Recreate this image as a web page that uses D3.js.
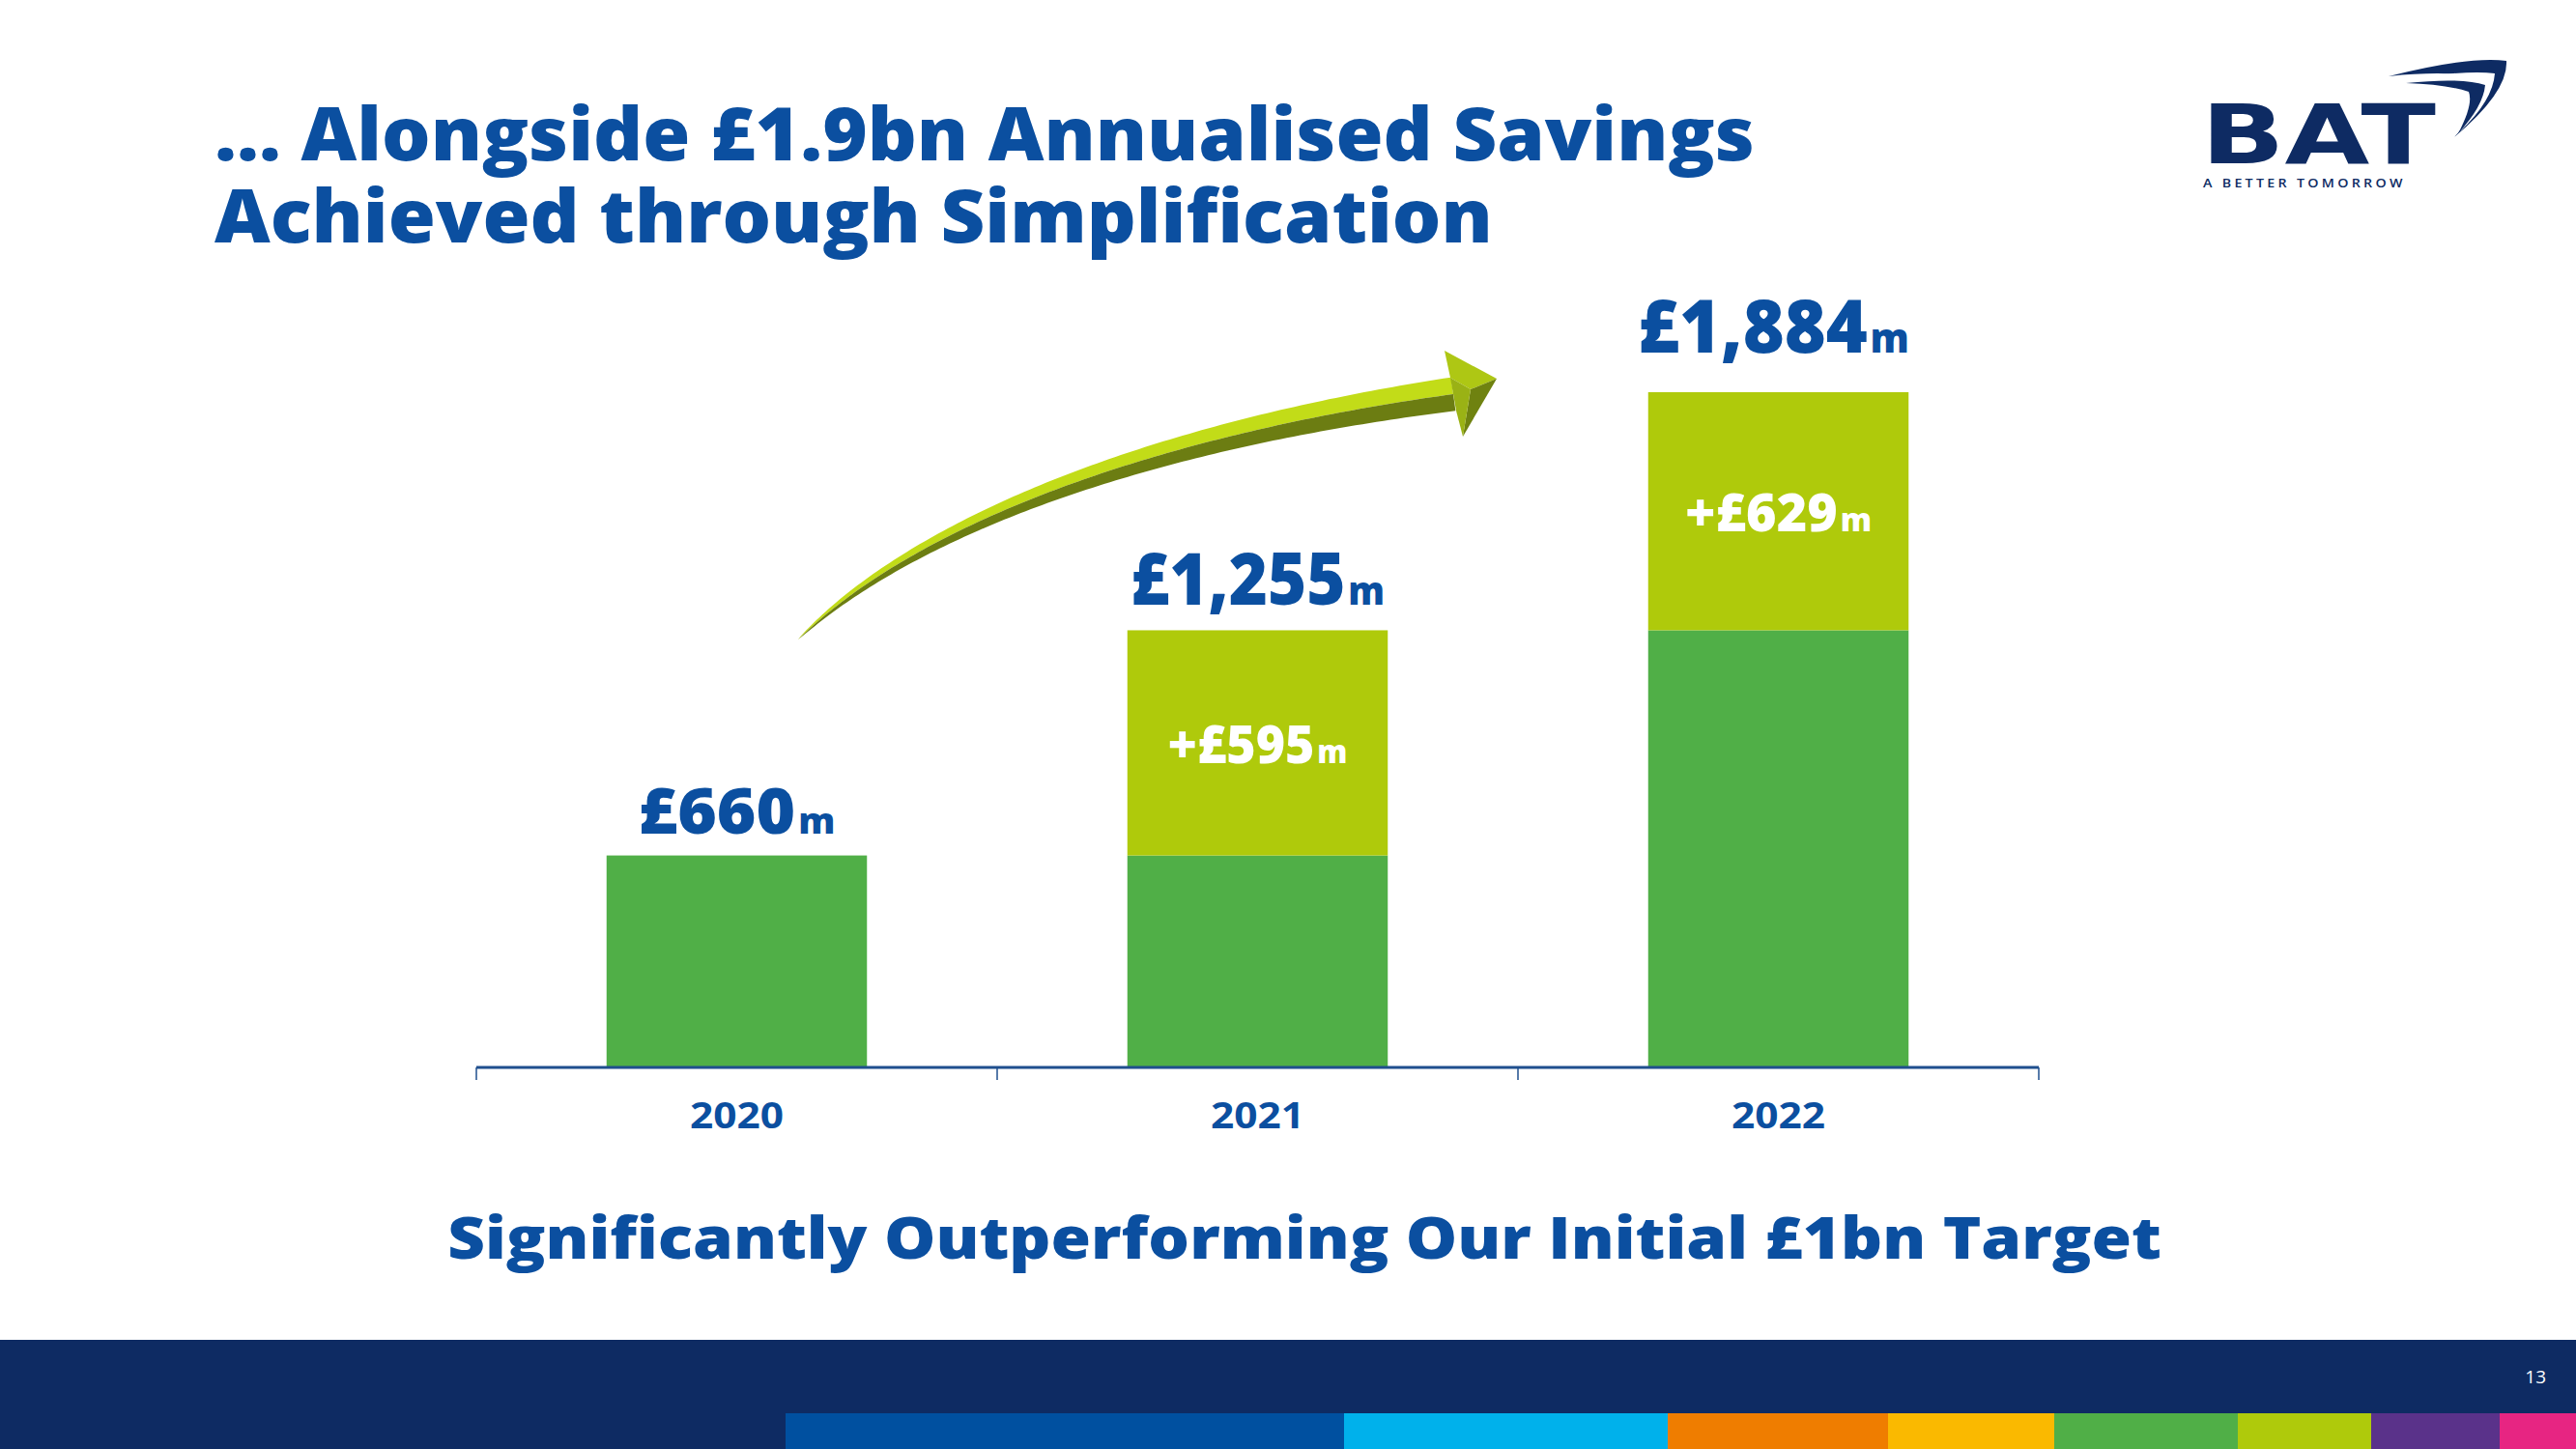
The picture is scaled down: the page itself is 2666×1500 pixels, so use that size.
<!DOCTYPE html>
<html><head><meta charset="utf-8">
<script src="https://cdn.jsdelivr.net/npm/d3@7"></script>
<style>html,body{margin:0;padding:0;background:#fff;overflow:hidden;} svg{display:block;}</style>
</head><body>
<script>
// ---- data ----
const years = ["2020", "2021", "2022"];
const baseSavings = [660, 660, 1255];
const addedSavings = [0, 595, 629];
const totalSavings = [660, 1255, 1884];
const totalLabels = ["£660", "£1,255", "£1,884"];
const addedLabels = ["", "+£595", "+£629"];
const unitLabel = "m";
const titleLines = ["… Alongside £1.9bn Annualised Savings", "Achieved through Simplification"];
const subtitle = "Significantly Outperforming Our Initial £1bn Target";
const logoWord = "BAT";
const logoTagline = "A BETTER TOMORROW";
const pageNumber = "13";

// ---- layout / style ----
const W = 2666, H = 1500;
const BLUE = "#0B4FA0", NAVY = "#0E2B63", GREEN = "#50AF47", LIME = "#AFCA0B";
const FONT = "'Open Sans', 'Noto Sans', sans-serif";
const stripeEdges = [813, 1391, 1726, 1954, 2126, 2316, 2454, 2587, 2666];
const stripeColors = ["#0050A0", "#00B1EB", "#EF7D00", "#FAB900", "#50AF47", "#AFCA0B", "#5A328A", "#E72582"];
const totalLabelGap = [23, 26, 41];
const totalLabelSize = [66, 74, 76];
const totalLabelWidth = [204, 263, 281];
const addedLabelWidth = [0, 186, 193];

const svg = d3.select("body").append("svg").attr("width", W).attr("height", H);
svg.append("rect").attr("width", W).attr("height", H).attr("fill", "#fff");

function fit(textSel, target, x, y) {
  const bb = textSel.node().getBBox();
  const s = target / bb.width;
  textSel.attr("transform", `translate(${x},${y}) scale(${s},1)`);
}

// ---- title (one text, two lines) ----
const title = svg.append("text").attr("x", 0).attr("y", 0)
  .attr("font-family", FONT).attr("font-weight", 800).attr("font-size", 76)
  .attr("fill", BLUE).attr("text-anchor", "start");
const tl1 = title.append("tspan").text(titleLines[0]).attr("x", 0).attr("y", 0);
title.append("tspan").text(titleLines[1]).attr("x", 0).attr("y", 85);
const ts = 1594 / tl1.node().getComputedTextLength();
title.attr("transform", `translate(222,166) scale(${ts},1)`);

// ---- logo ----
const logo = svg.append("g");
const bat = logo.append("text").text(logoWord).attr("x", 0).attr("y", 0)
  .attr("font-family", "'DejaVu Sans', sans-serif").attr("font-weight", 700).attr("font-size", 85)
  .attr("fill", NAVY).attr("text-anchor", "start");
fit(bat, 243, 2278, 169);
const tag = logo.append("text").text(logoTagline).attr("x", 0).attr("y", 0)
  .attr("font-family", FONT).attr("font-weight", 600).attr("font-size", 13)
  .attr("fill", NAVY).attr("letter-spacing", 3);
fit(tag, 210, 2280, 194);
logo.append("path").attr("fill", NAVY)
  .attr("d", "M2472,79 Q2555,58 2594,63 Q2596,95 2540,142 Q2578,100 2575,82 Q2540,72 2472,79 Z");
logo.append("path").attr("fill", "#fff")
  .attr("d", "M2478,84 Q2550,72 2582,76 Q2580,104 2546,136 Q2572,102 2567,90 Q2530,82 2478,84 Z");
logo.append("path").attr("fill", NAVY)
  .attr("d", "M2490,86 Q2548,80 2572,88 Q2570,110 2544,138 Q2560,108 2555,95 Q2530,87 2490,86 Z");

// ---- scales ----
const x = d3.scaleBand().domain(years).range([493, 2110]).paddingInner(0.5).paddingOuter(0.25);
const y = d3.scaleLinear().domain([100, 1884]).range([1105, 406]);

// ---- arrow ----
const P = [[826, 662], [950, 540], [1200, 450], [1504, 408]];
function bez(t) {
  const u = 1 - t;
  const px = u*u*u*P[0][0] + 3*u*u*t*P[1][0] + 3*u*t*t*P[2][0] + t*t*t*P[3][0];
  const py = u*u*u*P[0][1] + 3*u*u*t*P[1][1] + 3*u*t*t*P[2][1] + t*t*t*P[3][1];
  const dx = 3*u*u*(P[1][0]-P[0][0]) + 6*u*t*(P[2][0]-P[1][0]) + 3*t*t*(P[3][0]-P[2][0]);
  const dy = 3*u*u*(P[1][1]-P[0][1]) + 6*u*t*(P[2][1]-P[1][1]) + 3*t*t*(P[3][1]-P[2][1]);
  const len = Math.hypot(dx, dy);
  return {x: px, y: py, nx: dy/len, ny: -dx/len};
}
const N = 120;
const center = [], upper = [], lower = [];
for (let i = 0; i <= N; i++) {
  const t = i / N, b = bez(t);
  const hw = 17.5 * Math.pow(t, 0.75);
  center.push([b.x, b.y]);
  upper.push([b.x + b.nx*hw, b.y + b.ny*hw]);
  lower.push([b.x - b.nx*hw, b.y - b.ny*hw]);
}
const line = d3.line();
svg.append("path").attr("d", line(upper.concat(center.slice().reverse())) + "Z").attr("fill", "#C2DC18");
svg.append("path").attr("d", line(lower.concat(center.slice().reverse())) + "Z").attr("fill", "#6C7D12");
svg.append("path").attr("d", line([[1495,363],[1549,392],[1522,403],[1501,391]]) + "Z").attr("fill", "#AEC714");
svg.append("path").attr("d", line([[1522,403],[1549,392],[1514,452]]) + "Z").attr("fill", "#6F8210");
svg.append("path").attr("d", line([[1501,391],[1522,403],[1514,452],[1507,425]]) + "Z").attr("fill", "#9AB215");

// ---- bars ----
const g = svg.append("g");
g.selectAll("rect.base").data(years).join("rect").attr("class", "base")
  .attr("x", d => x(d)).attr("width", x.bandwidth())
  .attr("y", (d, i) => y(baseSavings[i])).attr("height", (d, i) => y.range()[0] - y(baseSavings[i]))
  .attr("fill", GREEN);
g.selectAll("rect.add").data(years.filter((d, i) => addedSavings[i] > 0)).join("rect").attr("class", "add")
  .attr("x", d => x(d)).attr("width", x.bandwidth())
  .attr("y", d => { const i = years.indexOf(d); return y(baseSavings[i] + addedSavings[i]); })
  .attr("height", d => { const i = years.indexOf(d); return y(baseSavings[i]) - y(baseSavings[i] + addedSavings[i]); })
  .attr("fill", LIME);

// ---- axis ----
const axisY = y.range()[0];
const bounds = [x.range()[0]].concat(years.map(d => x(d) + x.bandwidth() + x.step() * 0.25));
g.append("line").attr("x1", x.range()[0]).attr("x2", x.range()[1]).attr("y1", axisY).attr("y2", axisY)
  .attr("stroke", "#1F4F8E").attr("stroke-width", 3);
g.selectAll("line.tick").data(bounds).join("line").attr("class", "tick")
  .attr("x1", d => d).attr("x2", d => d).attr("y1", axisY).attr("y2", axisY + 13)
  .attr("stroke", "#1F4F8E").attr("stroke-width", 1.5);
years.forEach((d, i) => {
  const t = g.append("text").text(d).attr("x", 0).attr("y", 0)
    .attr("font-family", FONT).attr("font-weight", 700).attr("font-size", 37)
    .attr("fill", BLUE).attr("text-anchor", "middle");
  fit(t, 97, x(d) + x.bandwidth()/2, 1168);
});

// ---- value labels ----
years.forEach((d, i) => {
  const cx = x(d) + x.bandwidth()/2;
  const t = g.append("text").attr("x", 0).attr("y", 0)
    .attr("font-family", FONT).attr("font-weight", 800).attr("fill", BLUE).attr("text-anchor", "middle");
  t.append("tspan").text(totalLabels[i]).attr("font-size", totalLabelSize[i]);
  t.append("tspan").text(unitLabel).attr("font-size", totalLabelSize[i] * 0.55).attr("dx", 3);
  fit(t, totalLabelWidth[i], cx - (i === 2 ? 5 : 0), y(totalSavings[i]) - totalLabelGap[i]);
  if (addedSavings[i] > 0) {
    const mid = (y(baseSavings[i]) + y(baseSavings[i] + addedSavings[i])) / 2;
    const a = g.append("text").attr("x", 0).attr("y", 0)
      .attr("font-family", FONT).attr("font-weight", 800).attr("fill", "#fff").attr("text-anchor", "middle");
    a.append("tspan").text(addedLabels[i]).attr("font-size", 55);
    a.append("tspan").text(unitLabel).attr("font-size", 55 * 0.6).attr("dx", 3);
    fit(a, addedLabelWidth[i], cx, mid + 21);
  }
});

// ---- subtitle ----
const st = svg.append("text").text(subtitle).attr("x", 0).attr("y", 0)
  .attr("font-family", FONT).attr("font-weight", 800).attr("font-size", 61)
  .attr("fill", BLUE).attr("text-anchor", "middle");
fit(st, 1774, 1350, 1303);

// ---- footer ----
svg.append("rect").attr("x", 0).attr("y", 1387).attr("width", W).attr("height", H - 1387).attr("fill", NAVY);
svg.selectAll("rect.stripe").data(stripeColors).join("rect").attr("class", "stripe")
  .attr("x", (d, i) => stripeEdges[i]).attr("width", (d, i) => stripeEdges[i+1] - stripeEdges[i])
  .attr("y", 1463).attr("height", H - 1463).attr("fill", d => d);
svg.append("text").text(pageNumber).attr("x", 2635).attr("y", 1432)
  .attr("font-family", FONT).attr("font-size", 19).attr("fill", "#fff").attr("text-anchor", "end");
</script>
</body></html>
